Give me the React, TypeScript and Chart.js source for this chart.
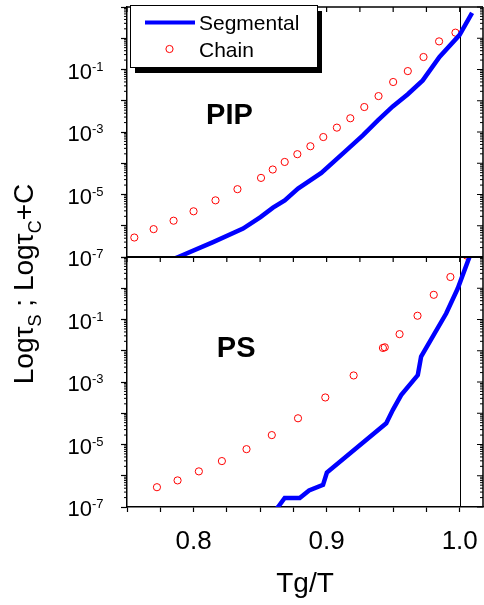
import React, { useEffect, useRef } from "react";
import { Chart, registerables } from "chart.js";

Chart.register(...registerables);

const FONT = "'Liberation Sans', Arial, Helvetica, sans-serif";

// PIP panel (top)
const pipSegX = [0.78, 0.7885, 0.8147, 0.8372, 0.8503, 0.8597, 0.8685, 0.8785, 0.896, 0.9148, 0.9272, 0.9385, 0.9497, 0.961, 0.9722, 0.9848, 0.9998, 1.0093];
const pipSegY = [7.1e-8, 1.0e-7, 3.0e-7, 8.1e-7, 1.9e-6, 3.8e-6, 6.5e-6, 1.55e-5, 4.9e-5, 2.57e-4, 7.8e-4, 2.34e-3, 6.6e-3, 1.62e-2, 4.47e-2, 0.251, 1.26, 6.46];
const pipChainX = [0.7555, 0.77, 0.785, 0.8, 0.8165, 0.833, 0.8507, 0.8595, 0.8685, 0.878, 0.8878, 0.8975, 0.9077, 0.9178, 0.9283, 0.939, 0.95, 0.961, 0.9728, 0.9845, 0.9968];
const pipChainY = [4.2e-7, 7.8e-7, 1.45e-6, 2.9e-6, 6.5e-6, 1.48e-5, 3.4e-5, 6.3e-5, 1.1e-4, 1.95e-4, 3.5e-4, 6.9e-4, 1.38e-3, 2.75e-3, 6.3e-3, 1.41e-2, 3.98e-2, 8.9e-2, 0.251, 0.794, 1.51];

// PS panel (bottom)
const psSegX = [0.858, 0.8635, 0.8685, 0.8798, 0.8868, 0.8973, 0.9002, 0.9448, 0.9498, 0.956, 0.9685, 0.971, 0.9898, 0.9985, 1.0073, 1.012];
const psSegY = [5.0e-8, 1.0e-7, 1.95e-7, 1.95e-7, 3.4e-7, 5.1e-7, 1.26e-6, 4.8e-5, 1.29e-4, 3.8e-4, 1.66e-3, 6.5e-3, 0.155, 0.977, 10, 40];
const psChainX = [0.7725, 0.788, 0.804, 0.8213, 0.8398, 0.8588, 0.8785, 0.899, 0.9203, 0.9423, 0.9437, 0.9548, 0.9683, 0.9805, 0.993, 1.0053];
const psChainY = [4.3e-7, 7.1e-7, 1.38e-6, 2.95e-6, 7.1e-6, 2.0e-5, 6.9e-5, 3.2e-4, 1.62e-3, 1.23e-2, 1.29e-2, 3.4e-2, 0.132, 0.617, 2.29, 11.0];

const seriesNames = ["Segmental", "Chain"];
const panelNames = ["PIP", "PS"];
const xTitle = "Tg/T";
const xMin = 0.75;
const xMax = 1.0175;
const xTickValues = [0.75, 0.775, 0.8, 0.825, 0.85, 0.875, 0.9, 0.925, 0.95, 0.975, 1.0];
const xLabelValues = [0.8, 0.9, 1.0];
const xTickLabels = ["0.8", "0.9", "1.0"];
const yMin = 1e-7;
const yMax = 10;
const yDecades = [1e-7, 1e-6, 1e-5, 1e-4, 1e-3, 1e-2, 1e-1, 1e0, 1e1];
const yLabelExponents = [-7, -5, -3, -1];
const refLineX = 1.0;

const zip = (xs: number[], ys: number[]) => xs.map((x, i) => ({ x, y: ys[i] }));

const framePlugin = {
  id: "frame",
  beforeDatasetsDraw(chart: any) {
    const { ctx, chartArea } = chart;
    const px = chart.scales.x.getPixelForValue(refLineX);
    ctx.save();
    ctx.strokeStyle = "#000";
    ctx.lineWidth = 1;
    ctx.beginPath();
    ctx.moveTo(Math.round(px) + 0.5, chartArea.top);
    ctx.lineTo(Math.round(px) + 0.5, chartArea.bottom);
    ctx.stroke();
    ctx.restore();
  },
  afterDatasetsDraw(chart: any) {
    const { ctx, chartArea } = chart;
    const xs = chart.scales.x;
    const yt = chart.scales.yTop;
    const yb = chart.scales.yBot;
    ctx.save();
    ctx.strokeStyle = "#000";
    ctx.lineWidth = 1.5;
    ctx.beginPath();
    ctx.moveTo(chartArea.left, yt.top);
    ctx.lineTo(chartArea.right, yt.top);
    ctx.stroke();
    ctx.lineWidth = 2;
    ctx.beginPath();
    ctx.moveTo(chartArea.left, yt.bottom);
    ctx.lineTo(chartArea.right, yt.bottom);
    ctx.stroke();
    ctx.lineWidth = 1.5;
    ctx.beginPath();
    ctx.moveTo(chartArea.right, chartArea.top);
    ctx.lineTo(chartArea.right, chartArea.bottom);
    ctx.stroke();
    ctx.lineWidth = 1.2;
    ctx.beginPath();
    for (const v of xTickValues) {
      const p = xs.getPixelForValue(v);
      ctx.moveTo(p, yt.top);
      ctx.lineTo(p, yt.top + 5);
      ctx.moveTo(p, yt.bottom);
      ctx.lineTo(p, yt.bottom + 5);
    }
    ctx.stroke();
    ctx.lineWidth = 1;
    ctx.beginPath();
    for (const s of [yt, yb]) {
      for (let e = -7; e <= 0; e++) {
        for (let m = 2; m <= 9; m++) {
          const p = s.getPixelForValue(m * Math.pow(10, e));
          ctx.moveTo(chartArea.left - 3, p);
          ctx.lineTo(chartArea.left, p);
          ctx.moveTo(chartArea.right - 3, p);
          ctx.lineTo(chartArea.right, p);
        }
      }
      for (const d of yDecades) {
        const p = s.getPixelForValue(d);
        ctx.moveTo(chartArea.right - 6, p);
        ctx.lineTo(chartArea.right, p);
      }
    }
    ctx.stroke();
    ctx.restore();
  },
  afterDraw(chart: any) {
    const { ctx } = chart;
    const yt = chart.scales.yTop;
    const yb = chart.scales.yBot;
    const xs = chart.scales.x;
    ctx.save();
    ctx.fillStyle = "#000";
    for (const s of [yt, yb]) {
      for (const e of yLabelExponents) {
        const p = s.getPixelForValue(Math.pow(10, e));
        ctx.font = `22px ${FONT}`;
        ctx.textAlign = "right";
        ctx.textBaseline = "alphabetic";
        ctx.fillText("10", 92, p + 9);
        ctx.font = `13px ${FONT}`;
        ctx.textAlign = "left";
        ctx.fillText(String(e), 92, p + 1);
      }
    }
    const parts = [
      { t: "Log\u03C4", sub: false },
      { t: "S", sub: true },
      { t: " ; Log\u03C4", sub: false },
      { t: "C", sub: true },
      { t: "+C", sub: false },
    ];
    const big = `28px ${FONT}`;
    const small = `18px ${FONT}`;
    let total = 0;
    const widths = parts.map((p) => {
      ctx.font = p.sub ? small : big;
      const w = ctx.measureText(p.t).width;
      total += w;
      return w;
    });
    ctx.translate(33, (yt.top + yb.bottom) / 2 + 27);
    ctx.rotate(-Math.PI / 2);
    ctx.textAlign = "left";
    let cx = -total / 2;
    parts.forEach((p, i) => {
      ctx.font = p.sub ? small : big;
      ctx.fillText(p.t, cx, p.sub ? 8 : 0);
      cx += widths[i];
    });
    ctx.setTransform(1, 0, 0, 1, 0, 0);

    ctx.font = `bold 29px ${FONT}`;
    ctx.textAlign = "center";
    ctx.fillText(panelNames[0], xs.getPixelForValue(0.827), yt.top + 117);
    ctx.fillText(panelNames[1], xs.getPixelForValue(0.832), yb.top + 100);

    const lx = 130, ly = 5, lw = 187, lh = 62;
    ctx.fillStyle = "#000";
    ctx.fillRect(lx + 5, ly + 6, lw, lh);
    ctx.fillStyle = "#fff";
    ctx.fillRect(lx, ly, lw, lh);
    ctx.strokeStyle = "#000";
    ctx.lineWidth = 1;
    ctx.strokeRect(lx + 0.5, ly + 0.5, lw, lh);
    const ds = chart.data.datasets;
    ctx.strokeStyle = ds[0].borderColor;
    ctx.lineWidth = 4;
    ctx.beginPath();
    ctx.moveTo(145, 22.5);
    ctx.lineTo(195, 22.5);
    ctx.stroke();
    ctx.strokeStyle = ds[1].pointBorderColor;
    ctx.lineWidth = 1;
    ctx.beginPath();
    ctx.arc(169.5, 49, 3.6, 0, Math.PI * 2);
    ctx.stroke();
    ctx.fillStyle = "#000";
    ctx.font = `21px ${FONT}`;
    ctx.textAlign = "left";
    ctx.fillText(seriesNames[0], 199, 30);
    ctx.fillText(seriesNames[1], 199, 57);
    ctx.restore();
  },
};

function yAxis() {
  return {
    type: "logarithmic",
    position: "left",
    stack: "panels",
    stackWeight: 1,
    min: yMin,
    max: yMax,
    afterBuildTicks: (s: any) => {
      s.ticks = yDecades.map((v) => ({ value: v, major: true }));
    },
    afterFit: (s: any) => {
      s.width = 127;
    },
    grid: { drawOnChartArea: false, drawTicks: true, tickLength: 6, color: "#000", tickWidth: 1.2 },
    border: { display: true, color: "#000", width: 1.5 },
    ticks: { display: false },
  };
}

export default function App() {
  const ref = useRef<HTMLCanvasElement | null>(null);
  useEffect(() => {
    if (!ref.current) return;
    const chart = new Chart(ref.current, {
      type: "scatter",
      data: {
        datasets: [
          {
            label: seriesNames[0],
            data: zip(pipSegX, pipSegY),
            yAxisID: "yTop",
            showLine: true,
            borderColor: "#0000ff",
            backgroundColor: "#0000ff",
            borderWidth: 4.5,
            pointRadius: 0,
            pointHoverRadius: 0,
          },
          {
            label: seriesNames[1],
            data: zip(pipChainX, pipChainY),
            yAxisID: "yTop",
            showLine: false,
            pointRadius: 3.6,
            pointBorderWidth: 1,
            pointBorderColor: "#ff0000",
            pointBackgroundColor: "rgba(0,0,0,0)",
            borderColor: "#ff0000",
            backgroundColor: "rgba(0,0,0,0)",
          },
          {
            label: seriesNames[0],
            data: zip(psSegX, psSegY),
            yAxisID: "yBot",
            showLine: true,
            borderColor: "#0000ff",
            backgroundColor: "#0000ff",
            borderWidth: 4.5,
            pointRadius: 0,
            pointHoverRadius: 0,
          },
          {
            label: seriesNames[1],
            data: zip(psChainX, psChainY),
            yAxisID: "yBot",
            showLine: false,
            pointRadius: 3.6,
            pointBorderWidth: 1,
            pointBorderColor: "#ff0000",
            pointBackgroundColor: "rgba(0,0,0,0)",
            borderColor: "#ff0000",
            backgroundColor: "rgba(0,0,0,0)",
          },
        ],
      },
      options: {
        responsive: false,
        animation: false,
        events: [],
        layout: { autoPadding: false, padding: { top: 7, right: 1, left: 0, bottom: 0 } },
        plugins: {
          legend: { display: false },
          tooltip: { enabled: false },
          title: { display: false },
        },
        scales: {
          x: {
            type: "linear",
            position: "bottom",
            min: xMin,
            max: xMax,
            afterBuildTicks: (s: any) => {
              s.ticks = xTickValues.map((v) => ({ value: v }));
            },
            afterFit: (s: any) => {
              s.height = 98;
              s.paddingLeft = 0;
              s.paddingRight = 0;
            },
            grid: { drawOnChartArea: false, drawTicks: true, tickLength: 5, color: "#000", tickWidth: 1.2 },
            border: { display: true, color: "#000", width: 1.5 },
            ticks: {
              autoSkip: false,
              maxRotation: 0,
              color: "#000",
              font: { size: 26, family: FONT },
              padding: 14,
              callback: (v: any) => {
                const i = xLabelValues.findIndex((l) => Math.abs(l - Number(v)) < 1e-6);
                return i >= 0 ? xTickLabels[i] : "";
              },
            },
            title: {
              display: true,
              text: xTitle,
              color: "#000",
              font: { size: 28, family: FONT },
              padding: { top: 0, bottom: 4 },
            },
          },
          yBot: yAxis() as any,
          yTop: yAxis() as any,
        },
      } as any,
      plugins: [framePlugin as any],
    });
    return () => chart.destroy();
  }, []);
  return (
    <div style={{ position: "absolute", left: 0, top: 0, width: 484, height: 605, background: "#fff" }}>
      <canvas ref={ref} width={484} height={605} style={{ display: "block" }} />
    </div>
  );
}
